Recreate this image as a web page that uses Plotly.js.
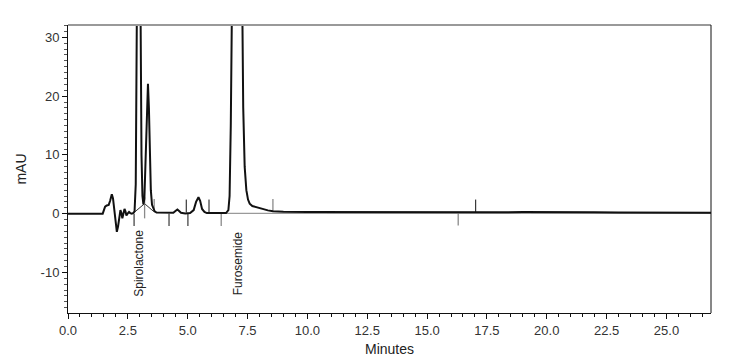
<!DOCTYPE html>
<html>
<head>
<meta charset="utf-8">
<script src="https://cdn.plot.ly/plotly-3.0.1.min.js"></script>
<style>
html,body{margin:0;padding:0;background:#fff;}
#chart{width:739px;height:357px;}
</style>
</head>
<body>
<div id="chart"></div>
<script>
// Chromatogram signal (minutes, mAU); tops of the two main peaks are clipped by the axis range
const timeMin = [0, 1.45, 1.5, 1.55, 1.62, 1.7, 1.76, 1.83, 1.88, 1.93, 1.98, 2.04, 2.09, 2.14, 2.19, 2.23, 2.27, 2.31, 2.36, 2.4, 2.44, 2.49, 2.55, 2.6, 2.66, 2.72, 2.78,
  2.83, 2.87, 2.91, 2.95, 2.99, 3.03, 3.07, 3.11, 3.15, 3.19, 3.24, 3.29, 3.34, 3.38, 3.42, 3.46, 3.51, 3.56, 3.62, 3.7, 3.9, 4.2, 4.4, 4.5, 4.57, 4.63, 4.72, 4.9, 5.1,
  5.25, 5.35, 5.45, 5.52, 5.6, 5.7, 5.8, 6.2, 6.6, 6.7, 6.75, 6.8, 6.85, 6.9, 7.0, 7.1, 7.2, 7.27, 7.32, 7.38, 7.45, 7.52, 7.59, 7.7, 7.94, 8.15, 8.35, 8.56, 9.0,
  10.0, 11.0, 12.0, 13.0, 14.0, 15.0, 16.0, 17.0, 18.0, 19.0, 20.0, 21.0, 22.0, 23.0, 24.0, 25.0, 26.0, 26.86];
const signal = [0, 0, 0.6, 1.2, 1.4, 1.5, 2.2, 3.3, 2.6, 0.5, -1.8, -3.1, -2.2, -0.3, 0.6, 0.1, -0.8, -0.1, 0.8, 0.4, -0.3, 0.0, 0.3, 0.1, 0.0, 0.1, 0.4,
  5, 25, 60, 80, 60, 30, 10, 3, 1.6, 2.5, 10, 19, 22.1, 18, 10, 4, 1.5, 0.8, 0.4, 0.2, 0.15, 0.1, 0.15, 0.5, 0.7, 0.5, 0.15, 0.05, 0.1,
  0.6, 2.0, 2.8, 2.2, 0.8, 0.3, 0.1, 0.05, 0.1, 0.6, 3, 15, 30, 60, 120, 140, 100, 40, 18, 8, 4.0, 2.4, 1.7, 1.3, 1.0, 0.75, 0.56, 0.4, 0.32,
  0.3, 0.28, 0.27, 0.25, 0.25, 0.22, 0.2, 0.22, 0.25, 0.27, 0.3, 0.28, 0.25, 0.22, 0.2, 0.18, 0.15, 0.15];

// Integration baseline under the spironolactone pair
const intBaseX = [2.76, 3.2, 3.6];
const intBaseY = [0.2, 1.7, 0.3];
// Grey baseline after the furosemide peak
const greyBaseX = [6.4, 26.86];
const greyBaseY = [0.05, 0.05];

// Peak start/end marks
const blackMarkT = [2.76, 4.22, 4.94, 5.01, 5.89, 17.03];
const blackMarkLo = [-2.1, -2.1, 0.2, -2.1, 0.2, 0.2];
const blackMarkHi = [0, 0, 2.4, 0, 2.4, 2.4];
const greyMarkT = [3.2, 3.6, 6.4, 8.56, 16.3];
const greyMarkLo = [-0.8, 0.3, -2.1, 0.3, -2.0];
const greyMarkHi = [2.8, 2.5, 0, 2.5, 0.2];

// Peak names
const peakNames = ["Spirolactone", "Furosemide"];
const peakTimes = [2.93, 7.09];

// Axis ticks
const xTicks = [0, 2.5, 5, 7.5, 10, 12.5, 15, 17.5, 20, 22.5, 25];
const xTickText = ["0.0", "2.5", "5.0", "7.5", "10.0", "12.5", "15.0", "17.5", "20.0", "22.5", "25.0"];
const yTicks = [-10, 0, 10, 20, 30];
const yTickText = ["-10", "0", "10", "20", "30"];

function segs(t, lo, hi) {
  const x = [], y = [];
  for (let i = 0; i < t.length; i++) { x.push(t[i], t[i], null); y.push(lo[i], hi[i], null); }
  return {x, y};
}
const bm = segs(blackMarkT, blackMarkLo, blackMarkHi);
const gm = segs(greyMarkT, greyMarkLo, greyMarkHi);

const traces = [
  {x: greyBaseX, y: greyBaseY, mode: 'lines', line: {color: '#9a9a9a', width: 1.2}, hoverinfo: 'skip'},
  {x: intBaseX, y: intBaseY, mode: 'lines', line: {color: '#333', width: 1}, hoverinfo: 'skip'},
  {x: gm.x, y: gm.y, mode: 'lines', line: {color: '#8a8a8a', width: 1.3}, connectgaps: false, hoverinfo: 'skip'},
  {x: bm.x, y: bm.y, mode: 'lines', line: {color: '#111', width: 1}, connectgaps: false, hoverinfo: 'skip'},
  {x: timeMin, y: signal, mode: 'lines', line: {color: '#111', width: 2}, hoverinfo: 'skip'}
];

const fontFam = 'Liberation Sans, Arial, sans-serif';
const layout = {
  width: 739, height: 357,
  margin: {l: 68, r: 28, t: 25, b: 44},
  showlegend: false,
  paper_bgcolor: '#fff', plot_bgcolor: '#fff',
  font: {family: fontFam, size: 13, color: '#333'},
  xaxis: {
    range: [0, 26.86], tickvals: xTicks, ticktext: xTickText,
    ticks: 'outside', ticklen: 5, tickcolor: '#111', tickwidth: 1,
    minor: {dtick: 0.5, ticks: 'outside', ticklen: 3, tickcolor: '#111', showgrid: false},
    showline: true, linecolor: '#111', linewidth: 1, showgrid: false, zeroline: false,
    tickfont: {size: 13, color: '#333'},
    title: {text: 'Minutes', font: {size: 14, color: '#222'}, standoff: 8}
  },
  yaxis: {
    range: [-16.9, 32.1], tickvals: yTicks, ticktext: yTickText,
    ticks: 'outside', ticklen: 5, tickcolor: '#111', tickwidth: 1,
    minor: {dtick: 1, ticks: 'outside', ticklen: 3, tickcolor: '#555', showgrid: false},
    showline: true, linecolor: '#111', linewidth: 1, showgrid: false, zeroline: false,
    tickfont: {size: 13, color: '#333'},
    title: {text: 'mAU', font: {size: 14, color: '#222'}, standoff: 10}
  },
  shapes: [
    {type: 'line', xref: 'paper', yref: 'paper', x0: 0, x1: 1, y0: 1, y1: 1, line: {color: '#999', width: 2}},
    {type: 'line', xref: 'paper', yref: 'paper', x0: 1, x1: 1, y0: 0, y1: 1, line: {color: '#111', width: 1}}
  ],
  annotations: peakNames.map((n, i) => ({
    text: n, x: peakTimes[i], y: -8.5, xref: 'x', yref: 'y', textangle: -90,
    showarrow: false, xanchor: 'center', yanchor: 'middle',
    font: {family: fontFam, size: 12, color: '#222'}
  }))
};

Plotly.newPlot('chart', traces, layout, {displayModeBar: false, staticPlot: true});
</script>
</body>
</html>
